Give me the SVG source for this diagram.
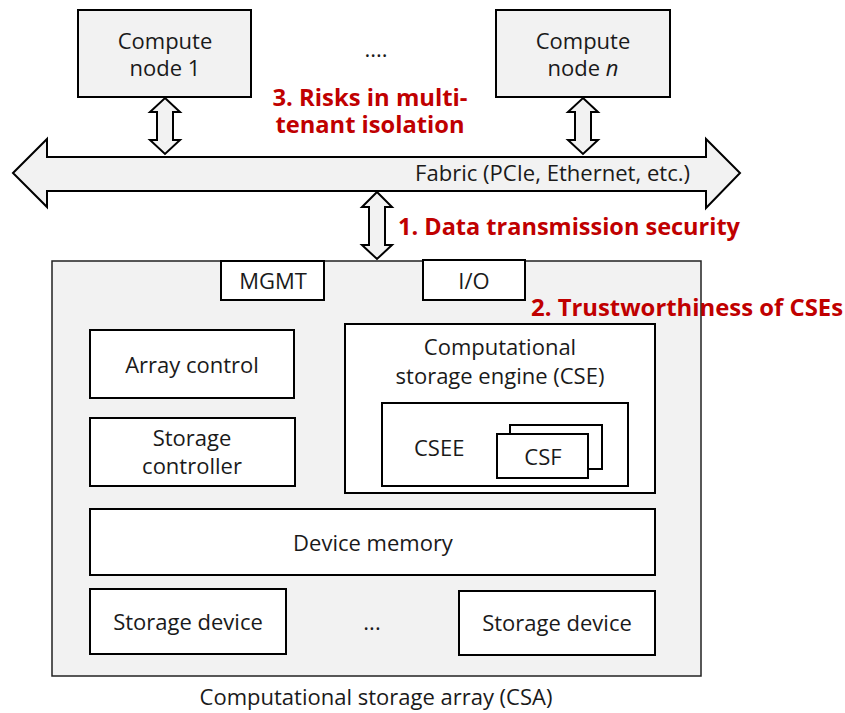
<svg xmlns="http://www.w3.org/2000/svg" width="845" height="713" viewBox="0 0 845 713">
  <style>
    .box { fill: #ffffff; stroke: #000000; stroke-width: 2; }
    .gbox { fill: #f2f2f2; stroke: #000000; stroke-width: 2; }
    .csa { fill: #f2f2f2; stroke: #222222; stroke-width: 1.5; }
    .arrow { fill: #f2f2f2; stroke: #000000; stroke-width: 2; stroke-linejoin: miter; }
    text { font-family: "Open Sans", "Noto Sans", "DejaVu Sans", sans-serif; font-size: 22px; fill: #1a1a1a; }
    .c { text-anchor: middle; }
    .risk { font-weight: bold; font-size: 24px; fill: #c00000; }
  </style>
  <rect width="845" height="713" fill="#ffffff"/>

  <!-- Compute nodes -->
  <g id="compute-node-1">
    <rect class="gbox" x="78" y="10" width="173" height="87"/>
    <text class="c" x="165" y="49">Compute</text>
    <text class="c" x="165" y="76">node 1</text>
  </g>
  <g id="compute-dots">
    <text class="c" x="376" y="57">....</text>
  </g>
  <g id="compute-node-n">
    <rect class="gbox" x="496" y="10" width="174" height="87"/>
    <text class="c" x="583" y="49">Compute</text>
    <text class="c" x="583" y="76">node <tspan font-style="italic">n</tspan></text>
  </g>

  <!-- Fabric -->
  <g id="fabric">
    <polygon class="arrow" points="13,173 47,139 47,157 706,157 706,139 740,173 706,208 706,191 47,191 47,207"/>
    <text x="415" y="181" font-size="21" textLength="275" lengthAdjust="spacingAndGlyphs">Fabric (PCIe, Ethernet, etc.)</text>
  </g>

  <!-- Links between nodes, fabric and array -->
  <g id="connectors">
    <polygon class="arrow" points="165,98 180,112 173,112 173,140 180,140 165,154 150,140 157,140 157,112 150,112"/>
    <polygon class="arrow" points="583,98 598,112 591,112 591,140 598,140 583,154 568,140 575,140 575,112 568,112"/>
    <polygon class="arrow" points="377,192 392,207 385,207 385,245 392,245 377,259 362,245 369,245 369,207 362,207"/>
  </g>

  <!-- Security concerns -->
  <g id="risk-3">
    <text class="risk c" x="370" y="106" textLength="195" lengthAdjust="spacingAndGlyphs">3. Risks in multi-</text>
    <text class="risk c" x="370" y="133" textLength="189" lengthAdjust="spacingAndGlyphs">tenant isolation</text>
  </g>
  <g id="risk-1">
    <text class="risk" x="398" y="235" textLength="342" lengthAdjust="spacingAndGlyphs">1. Data transmission security</text>
  </g>

  <!-- Computational storage array -->
  <g id="csa">
    <rect class="csa" x="52" y="261" width="649" height="415"/>
    <text class="c" x="376" y="705">Computational storage array (CSA)</text>
  </g>
  <g id="mgmt">
    <rect class="box" x="221" y="261" width="103" height="39"/>
    <text class="c" x="273" y="289">MGMT</text>
  </g>
  <g id="io">
    <rect class="box" x="423" y="260" width="102" height="40"/>
    <text class="c" x="474" y="289">I/O</text>
  </g>
  <g id="risk-2">
    <text class="risk" x="531" y="316" textLength="312" lengthAdjust="spacingAndGlyphs">2. Trustworthiness of CSEs</text>
  </g>
  <g id="array-control">
    <rect class="box" x="90" y="330" width="204" height="68"/>
    <text class="c" x="192" y="373">Array control</text>
  </g>
  <g id="storage-controller">
    <rect class="box" x="90" y="418" width="205" height="68"/>
    <text class="c" x="192" y="446">Storage</text>
    <text class="c" x="192" y="474">controller</text>
  </g>
  <g id="cse">
    <rect class="box" x="345" y="324" width="310" height="169"/>
    <text class="c" x="500" y="355">Computational</text>
    <text class="c" x="500" y="384">storage engine (CSE)</text>
  </g>
  <g id="csee">
    <rect class="box" x="382" y="403" width="246" height="83"/>
    <text x="414" y="456">CSEE</text>
  </g>
  <g id="csf">
    <rect class="box" x="510" y="425" width="92" height="44"/>
    <rect class="box" x="497" y="434" width="91" height="44"/>
    <text class="c" x="543" y="465">CSF</text>
  </g>
  <g id="device-memory">
    <rect class="box" x="90" y="509" width="565" height="66"/>
    <text class="c" x="373" y="551">Device memory</text>
  </g>
  <g id="storage-device-1">
    <rect class="box" x="90" y="589" width="196" height="65"/>
    <text class="c" x="188" y="630">Storage device</text>
  </g>
  <g id="storage-dots">
    <text class="c" x="372" y="630">...</text>
  </g>
  <g id="storage-device-2">
    <rect class="box" x="459" y="591" width="196" height="64"/>
    <text class="c" x="557" y="631">Storage device</text>
  </g>
</svg>
